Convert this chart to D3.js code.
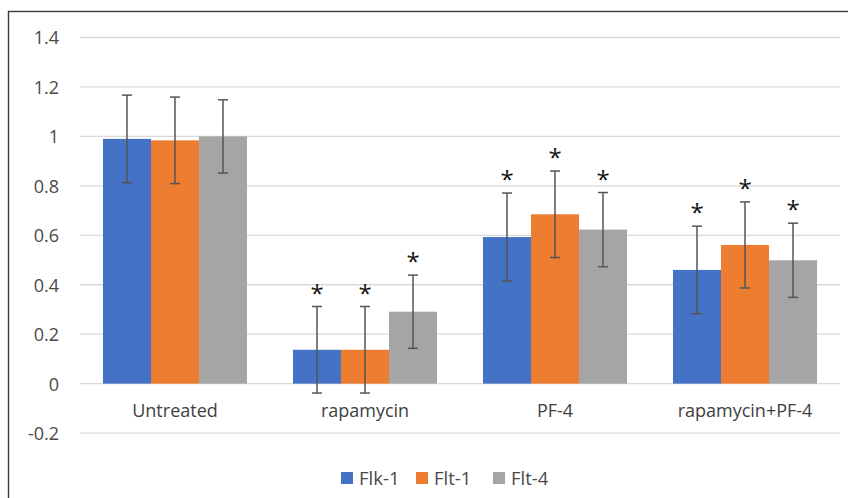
<!DOCTYPE html>
<html>
<head>
<meta charset="utf-8">
<script src="https://cdn.jsdelivr.net/npm/d3@7/dist/d3.min.js"></script>
<style>
  html, body { margin: 0; padding: 0; background: #fff; }
  svg { display: block; }
  text { font-family: "Open Sans", "Noto Sans", sans-serif; }
</style>
</head>
<body>
<svg id="chart" width="848" height="498"></svg>
<script>
// ---- data ----
const categories = ["Untreated", "rapamycin", "PF-4", "rapamycin+PF-4"];
const seriesNames = ["Flk-1", "Flt-1", "Flt-4"];
const seriesColors = ["#4472C4", "#ED7D31", "#A5A5A5"];
const flk1 = [0.99, 0.137, 0.593, 0.46];
const flt1 = [0.984, 0.137, 0.685, 0.561];
const flt4 = [1.0, 0.291, 0.623, 0.499];
const flk1Err = [0.177, 0.175, 0.178, 0.177];
const flt1Err = [0.175, 0.175, 0.175, 0.174];
const flt4Err = [0.148, 0.148, 0.150, 0.150];
// significance marks (true = asterisk)
const flk1Sig = [false, true, true, true];
const flt1Sig = [false, true, true, true];
const flt4Sig = [false, true, true, true];
const yTicks = [-0.2, 0, 0.2, 0.4, 0.6, 0.8, 1, 1.2, 1.4];

const values = [flk1, flt1, flt4];
const errors = [flk1Err, flt1Err, flt4Err];
const sigs = [flk1Sig, flt1Sig, flt4Sig];

const rows = [];
categories.forEach((c, i) => {
  seriesNames.forEach((s, j) => {
    rows.push({ cat: c, series: s, color: seriesColors[j], v: values[j][i], e: errors[j][i], sig: sigs[j][i] });
  });
});

// ---- layout ----
const svg = d3.select("#chart");
const plotLeft = 80, plotRight = 840;

svg.append("rect")
  .attr("x", 8.5).attr("y", 11.5)
  .attr("width", 860).attr("height", 500)
  .attr("fill", "none").attr("stroke", "#3a3a3a").attr("stroke-width", 1.4);

const y = d3.scaleLinear().domain([-0.2, 1.4]).range([433.1, 37.5]);
const x0 = d3.scaleBand().domain(categories).range([plotLeft, plotRight]).paddingInner(0.242).paddingOuter(0.121);
const x1 = d3.scaleBand().domain(seriesNames).range([0, x0.bandwidth()]);

// gridlines
svg.append("g").selectAll("line").data(yTicks).join("line")
  .attr("x1", plotLeft).attr("x2", plotRight)
  .attr("y1", d => y(d)).attr("y2", d => y(d))
  .attr("stroke", "#d9d9d9").attr("stroke-width", 1.3);

// y axis labels
const yAxis = d3.axisLeft(y).tickValues(yTicks).tickSize(0).tickPadding(0)
  .tickFormat(d => String(+d.toFixed(1)));
const gy = svg.append("g").attr("transform", "translate(59,0)").call(yAxis);
gy.select(".domain").remove();
gy.selectAll("text").attr("font-size", 18).attr("fill", "#4a4a4a")
  .attr("font-family", "'Open Sans', sans-serif").attr("dy", "0.36em");

// bars
svg.append("g").selectAll("rect").data(rows).join("rect")
  .attr("x", d => x0(d.cat) + x1(d.series))
  .attr("width", x1.bandwidth())
  .attr("y", d => y(Math.max(0, d.v)))
  .attr("height", d => Math.abs(y(d.v) - y(0)))
  .attr("fill", d => d.color);

// error bars
const eg = svg.append("g").attr("stroke", "#555555").attr("stroke-width", 1.5);
rows.forEach(d => {
  const cx = x0(d.cat) + x1(d.series) + x1.bandwidth() / 2;
  const yt = y(d.v + d.e), yb = y(d.v - d.e);
  eg.append("line").attr("x1", cx).attr("x2", cx).attr("y1", yt).attr("y2", yb);
  eg.append("line").attr("x1", cx - 5).attr("x2", cx + 5).attr("y1", yt).attr("y2", yt);
  eg.append("line").attr("x1", cx - 5).attr("x2", cx + 5).attr("y1", yb).attr("y2", yb);
});

// asterisks
svg.append("g").selectAll("text").data(rows.filter(d => d.sig)).join("text")
  .attr("x", d => x0(d.cat) + x1(d.series) + x1.bandwidth() / 2)
  .attr("y", d => y(d.v + d.e) - 5)
  .attr("text-anchor", "middle")
  .attr("font-family", "'DejaVu Sans', sans-serif")
  .attr("font-size", 24)
  .attr("fill", "#111")
  .text("*");

// category labels
const xAxis = d3.axisBottom(x0).tickSize(0).tickPadding(0);
const gx = svg.append("g").attr("transform", "translate(0,417)").call(xAxis);
gx.select(".domain").remove();
gx.selectAll("text").attr("font-size", 18).attr("fill", "#404040")
  .attr("font-family", "'Open Sans', sans-serif").attr("dy", 0);

// legend
const legendX = [341, 416, 493];
const lg = svg.append("g");
seriesNames.forEach((s, j) => {
  lg.append("rect").attr("x", legendX[j]).attr("y", 472).attr("width", 12).attr("height", 12).attr("fill", seriesColors[j]);
  lg.append("text").attr("x", legendX[j] + 18).attr("y", 485)
    .attr("font-size", 18.5).attr("fill", "#4a4a4a").text(s);
});
</script>
</body>
</html>
